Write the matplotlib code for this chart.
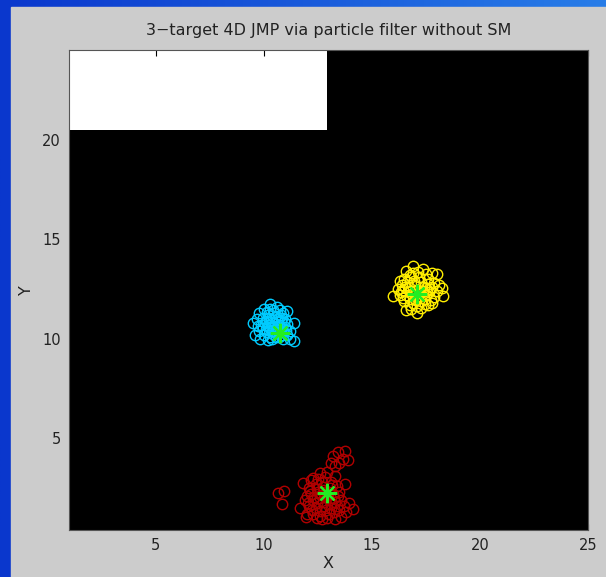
import numpy as np
import matplotlib.pyplot as plt
from matplotlib.patches import Rectangle

# particules de chaque cible (X, Y)
cyan_x = [10.3, 10.6, 9.5, 9.6, 9.85, 10.2, 11.2, 11.4, 11.4, 11.1,
          9.8, 10.0, 10.2, 10.5, 10.8, 11.0, 9.9, 10.1, 10.4, 10.7,
          11.0, 9.8, 10.1, 10.4, 10.6, 10.9, 11.2, 10.0, 10.3, 10.7,
          10.9, 10.5, 10.2, 10.6, 10.9, 9.7, 10.3, 10.8, 11.1, 10.4,
          9.95, 10.25, 10.55, 10.85, 9.95, 10.25, 10.55, 10.85, 11.1, 10.15,
          10.45, 10.75, 10.05, 10.35, 10.65, 10.95, 10.15, 10.45, 10.75, 9.75,
          10.55, 10.85, 11.05, 10.3, 10.6]
cyan_y = [11.75, 11.6, 10.8, 10.2, 10.0, 9.95, 10.0, 9.9, 10.8, 11.4,
          11.3, 11.5, 11.2, 11.3, 11.2, 11.0, 10.7, 10.9, 10.8, 10.7,
          10.6, 10.4, 10.5, 10.4, 10.3, 10.4, 10.4, 10.2, 10.1, 10.1,
          10.0, 10.6, 10.7, 11.0, 11.3, 11.0, 11.5, 10.9, 10.2, 10.0,
          11.05, 11.05, 11.15, 11.05, 10.55, 10.6, 10.45, 10.55, 10.75, 10.35,
          10.25, 10.35, 10.8, 10.95, 10.85, 10.85, 11.35, 11.45, 11.45, 10.65,
          10.1, 10.2, 10.45, 10.55, 10.6]

yellow_x = [16.9, 17.35, 16.6, 17.8, 18.0, 15.97, 16.2, 16.6, 17.08, 17.8,
            18.29, 18.24, 16.5, 16.8, 17.2, 17.6, 17.9, 16.4, 16.7, 17.0,
            17.4, 17.7, 18.0, 16.3, 16.6, 17.2, 17.5, 17.9, 16.5, 16.9,
            17.3, 17.6, 16.8, 17.3, 17.0, 16.9, 17.5, 16.3, 18.1,
            16.45, 16.75, 17.05, 17.35, 17.65, 16.45, 16.75, 17.15, 17.45, 17.75,
            16.65, 16.95, 17.3, 17.6, 16.75, 17.1, 17.45, 16.55, 16.85, 17.5,
            17.8, 17.15, 16.75, 17.05, 16.35]
yellow_y = [13.65, 13.5, 13.4, 13.3, 13.25, 12.15, 12.5, 11.45, 11.3, 11.8,
            12.15, 12.55, 13.0, 13.1, 13.1, 13.0, 12.8, 12.7, 12.6, 12.7,
            12.6, 12.5, 12.4, 12.2, 12.2, 12.3, 12.2, 12.1, 11.9, 11.8,
            11.9, 11.7, 11.5, 11.55, 12.0, 13.3, 13.25, 12.9, 12.7,
            12.45, 12.4, 12.45, 12.4, 12.35, 12.05, 12.0, 12.1, 12.0, 11.95,
            12.85, 12.9, 12.85, 12.75, 11.7, 11.65, 11.75, 12.6, 12.25, 12.55,
            12.6, 13.35, 13.2, 11.95, 12.35]

red_x = [12.6, 12.95, 13.3, 12.3, 11.8, 11.7, 12.0, 12.7, 13.3, 14.15,
         13.95, 13.75, 12.1, 12.4, 12.7, 13.1, 13.4, 12.2, 12.5, 12.8,
         13.2, 13.5, 11.9, 12.3, 12.6, 13.0, 13.3, 13.6, 12.1, 12.4,
         12.8, 13.1, 13.5, 13.8, 12.3, 12.6, 13.0, 13.6, 12.9, 12.2,
         11.95,
         12.15, 12.45, 12.75, 13.05, 12.35, 12.65, 12.95, 13.25, 12.05, 12.45,
         12.75, 13.1, 13.4, 12.25, 12.6, 12.95, 13.25, 12.5, 12.85, 13.15,
         12.0, 13.7, 12.45, 13.45, 12.85,
         13.2, 13.45, 13.75, 13.9, 13.5, 13.3, 13.65, 13.1,
         10.65, 10.93, 10.83]
red_y = [3.25, 3.3, 3.1, 3.0, 2.75, 1.5, 1.2, 0.95, 0.95, 1.45,
         1.75, 2.7, 2.5, 2.7, 2.8, 2.8, 2.6, 2.2, 2.3, 2.4,
         2.2, 2.3, 1.9, 1.9, 2.0, 1.9, 1.8, 1.9, 1.6, 1.5,
         1.6, 1.5, 1.4, 1.3, 1.2, 1.1, 1.2, 1.05, 1.4, 2.9,
         1.05,
         2.35, 2.45, 2.55, 2.5, 2.05, 2.15, 2.05, 2.0, 1.75, 1.75,
         1.8, 1.7, 1.6, 1.4, 1.35, 1.0, 1.3, 2.95, 3.05, 2.65,
         2.1, 1.6, 1.0, 2.1, 2.2,
         4.1, 4.3, 4.35, 3.9, 3.75, 3.6, 3.95, 3.75,
         2.27, 2.37, 1.71]

# positions estimées des cibles
est_x = [10.74, 17.08, 12.93]
est_y = [10.29, 12.25, 2.28]

fig = plt.figure(figsize=(6.06, 5.77), dpi=100)

# fond : bandeau bleu dégradé puis zone grise
bg = fig.add_axes([0, 0, 1, 1])
bg.axis('off')
t = np.linspace(0, 1, 256)
grad = np.zeros((2, 256, 3))
grad[:, :, 0] = (10 + 30 * t) / 255
grad[:, :, 1] = (55 + 70 * t) / 255
grad[:, :, 2] = (205 + 27 * t) / 255
bg.imshow(grad, aspect='auto', extent=[0, 1, 0, 1])
bg.set_xlim(0, 1)
bg.set_ylim(0, 1)
bg.add_patch(Rectangle((11 / 606, 0), 1, 1 - 7 / 577,
                       transform=fig.transFigure, color='#cccccc'))

ax = fig.add_axes([69 / 606, 1 - 530 / 577, (588 - 69) / 606, (530 - 50) / 577])
ax.set_facecolor('black')

mk = dict(marker='o', linestyle='none', markersize=7.5,
          markerfacecolor='none', markeredgewidth=1.0, zorder=2)
ax.plot(red_x, red_y, markeredgecolor='#b00000', **mk)
ax.plot(cyan_x, cyan_y, markeredgecolor='#00ccff', **mk)
ax.plot(yellow_x, yellow_y, markeredgecolor='#ffee00', **mk)
ax.plot(est_x, est_y, linestyle='none', marker=(8, 2, 0), markersize=14,
        markeredgewidth=1.6, color='#22ee22', zorder=3)

# légende vide (boîte blanche)
ax.add_patch(Rectangle((0, 1 - 80 / 480), (327 - 69) / 519, 80 / 480,
                       transform=ax.transAxes, facecolor='white',
                       edgecolor='none', zorder=1))

ax.set_xlim(1, 25)
ax.set_ylim(0.4, 24.5)
ax.set_xticks([5, 10, 15, 20, 25])
ax.set_yticks([5, 10, 15, 20])
ax.tick_params(direction='in', top=True, right=True, length=4.5,
               width=0.8, color='black', labelsize=10.5,
               labelcolor='#222222', pad=6)
for s in ax.spines.values():
    s.set_color('#555555')
    s.set_linewidth(0.8)

ax.set_title('3\u2212target 4D JMP via particle filter without SM',
             fontsize=11.5, color='#222222', pad=11)
ax.set_xlabel('X', fontsize=11.5, color='#222222', labelpad=2)
ax.set_ylabel('Y', fontsize=11.5, color='#222222', labelpad=6)

plt.savefig('out.png', dpi=100)
